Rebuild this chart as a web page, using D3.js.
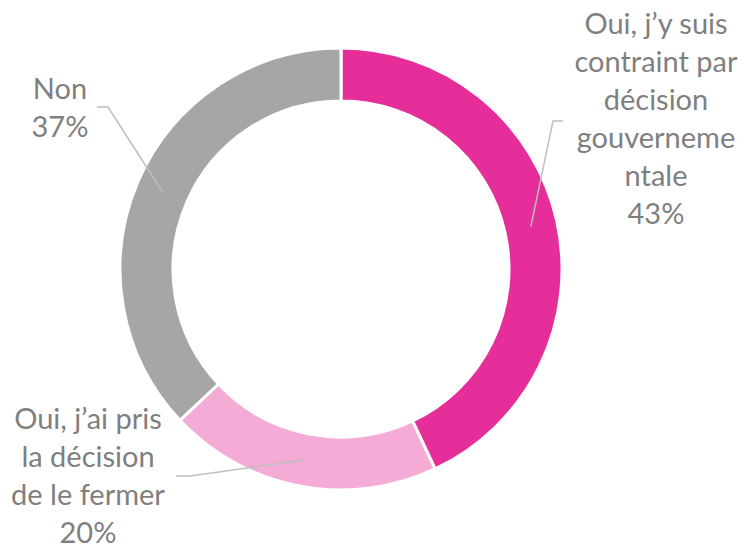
<!DOCTYPE html>
<html>
<head>
<meta charset="utf-8">
<script src="https://cdn.jsdelivr.net/npm/d3@7"></script>
<style>
  body { margin: 0; background: #fff; }
  .lbl { font-family: Lato, "Open Sans", sans-serif; font-size: 29px; fill: #7f7f7f; }
  .leader { fill: none; stroke: #bfbfbf; stroke-width: 1.5; }
</style>
</head>
<body>
<div id="chart"></div>
<script>
// data
var categories = ["Oui, j’y suis contraint par décision gouvernementale",
                  "Oui, j’ai pris la décision de le fermer",
                  "Non"];
var values = [43, 20, 37];
var percentLabels = ["43%", "20%", "37%"];
// wrapped label lines, as they appear in the chart
var labelLines = [
    ["Oui, j’y suis", "contraint par", "décision", "gouverneme", "ntale"],
    ["Oui, j’ai pris", "la décision", "de le fermer"],
    ["Non"]
];
var colors = ["#e62e9b", "#f4acd6", "#a6a6a6"];

function make_donut() {
    var width = 746, height = 548;
    var cX = 341, cY = 269;
    var outerR = 221, innerR = 168;
    var lineH = 38;

    var svg = d3.select("#chart").append("svg")
        .attr("width", width)
        .attr("height", height);

    var g = svg.append("g")
        .attr("transform", "translate(" + cX + "," + cY + ")");

    var pie = d3.pie().sort(null).value(function(d) { return d; });
    var arcs = pie(values);

    var arc = d3.arc().innerRadius(innerR).outerRadius(outerR);

    g.selectAll("path.slice")
        .data(arcs)
        .enter().append("path")
        .attr("class", "slice")
        .attr("d", arc)
        .attr("fill", function(d, i) { return colors[i]; })
        .attr("stroke", "#fff")
        .attr("stroke-width", 3);

    // label blocks: centre x, first baseline, leader start (absolute coords)
    var labelPos = [
        {x: 656, y: 34, lx: 563, ly: 121, kx: 553},
        {x: 88, y: 429, lx: 176, ly: 476, kx: 190},
        {x: 60, y: 99, lx: 97, ly: 107, kx: 108}
    ];

    arcs.forEach(function(a, i) {
        var c = arc.centroid(a);
        var p = labelPos[i];
        svg.append("polyline")
            .attr("class", "leader")
            .attr("points", [[p.lx, p.ly], [p.kx, p.ly], [c[0] + cX, c[1] + cY]].join(" "));

        var t = svg.append("text")
            .attr("class", "lbl")
            .attr("text-anchor", "middle");
        var lines = labelLines[i].concat([percentLabels[i]]);
        lines.forEach(function(s, j) {
            t.append("tspan")
                .attr("x", p.x)
                .attr("y", p.y + j * lineH)
                .text(s);
        });
    });
}

make_donut();
</script>
</body>
</html>
